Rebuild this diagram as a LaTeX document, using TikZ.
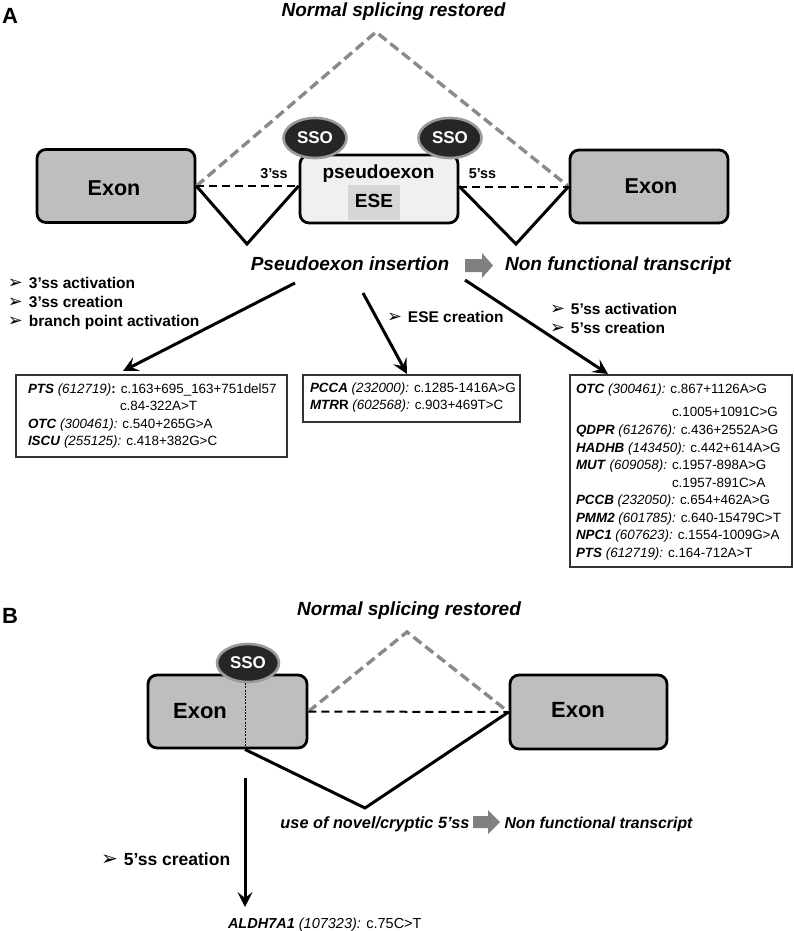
\documentclass[tikz,border=0pt]{standalone}
\usepackage{fontspec}
\setmainfont{Liberation Sans}
\newfontfamily\dejavu{DejaVu Sans}
\usetikzlibrary{shapes.geometric,arrows.meta}
\newcommand\fsz[1]{\fontsize{#1}{#1}\selectfont}
\newcommand\bi[1]{\textbf{\textit{#1}}}
\newcommand\blt{{\dejavu\mdseries\upshape\scalebox{1.15}{➢}}}
\definecolor{exgray}{HTML}{BEBEBE}
\definecolor{pexfill}{HTML}{F0F0F0}
\definecolor{esefill}{HTML}{D6D6D6}
\definecolor{ssofill}{HTML}{262626}
\definecolor{ssoedge}{HTML}{9A9A9A}
\definecolor{gline}{HTML}{8A8A8A}
\definecolor{garrow}{HTML}{808080}
\begin{document}
\begin{tikzpicture}[x=1pt,y=-1pt,
  exon/.style={draw, line width=2.8pt, fill=exgray, rounded corners=9pt, minimum width=158pt, minimum height=73pt, inner sep=0pt},
  pex/.style={draw, line width=2.8pt, fill=pexfill, rounded corners=9pt, minimum width=158pt, minimum height=68pt, inner sep=0pt},
  esebox/.style={fill=esefill, minimum width=52pt, minimum height=35pt, inner sep=0pt},
  sso/.style={ellipse, draw=ssoedge, line width=2.6pt, fill=ssofill, text=white, font=\fsz{17}\bfseries, minimum width=63pt, minimum height=40pt, inner sep=0pt},
  txt/.style={inner sep=0pt, outer sep=0pt},
  gdash/.style={draw=gline, line width=3.4pt, dash pattern=on 10pt off 5pt},
  bdash/.style={draw=black, line width=2pt, dash pattern=on 8pt off 5pt},
  vln/.style={draw=black, line width=3pt, line join=miter},
  listbox/.style={draw=black!80, line width=1.2pt, inner sep=0pt},
  bigarr/.style={line width=3pt, -{Stealth[length=15pt,width=15pt,inset=6pt]}},
  gbig/.style={txt, font=\fsz{19}\bfseries\itshape},
  bul/.style={txt, font=\fsz{15.5}\bfseries},
  lst/.style={txt, font=\fsz{13.4}},
  ]
\useasboundingbox (0,0) rectangle (794,931);

% ---------------- Panel A ----------------
\node[txt, anchor=base west, font=\fsz{22}\bfseries] (labA) at (2,24) {A};
\node[gbig, anchor=base] (nsrA) at (393.5,17) {Normal splicing restored};

\coordinate (apA) at (376,32);
\coordinate (vAL) at (247,244);
\coordinate (vAR) at (516,244);

\node[exon] (exL) at (116,186) {};
\node[exon] (exR) at (649,186.5) {};
\node[pex] (pe) at (379,189) {};
\node[esebox] (ese) at (374,202.5) {};

\node[txt, anchor=base, font=\fsz{21.5}\bfseries] (exLt) at (114,195) {Exon};
\node[txt, anchor=base, font=\fsz{21.5}\bfseries] (exRt) at (651,193) {Exon};
\node[txt, anchor=base, font=\fsz{19}\bfseries] (peT) at (378.5,178) {pseudoexon};
\node[txt, anchor=base, font=\fsz{19}\bfseries] (eseT) at (374,207) {ESE};

\draw[gdash] (exL.east) -- (apA) -- (exR.west);
\draw[bdash] (exL.east) -- (exL.east -| pe.west);
\draw[bdash] (exR.west -| pe.east) -- (exR.west);
\draw[vln] (exL.east) -- (vAL) -- (exL.east -| pe.west);
\draw[vln] (exR.west -| pe.east) -- (vAR) -- (exR.west);

\node[sso] (ssoL) at (315,138) {SSO};
\node[sso] (ssoR) at (450,138) {SSO};

\node[txt, anchor=base, font=\fsz{14.4}\bfseries] (ss3) at (274,178) {3’ss};
\node[txt, anchor=base, font=\fsz{14.4}\bfseries] (ss5) at (482.5,178) {5’ss};

\node[gbig, anchor=base] (pins) at (350,270) {Pseudoexon insertion};
\node[gbig, anchor=base] (nft) at (618,270) {Non functional transcript};
\fill[garrow] (465,259) -- (482,259) -- (482,253) -- (493,265.5) -- (482,278) -- (482,272) -- (465,272) -- cycle;

% bullets
\node[bul, anchor=base west] (b1) at (8,288) {\blt\hspace{6pt}3’ss activation};
\node[bul, anchor=base west] (b2) at (8,307) {\blt\hspace{6pt}3’ss creation};
\node[bul, anchor=base west] (b3) at (8,326) {\blt\hspace{6pt}branch point activation};
\node[bul, anchor=base west] (b4) at (387,322) {\blt\hspace{6pt}ESE creation};
\node[bul, anchor=base west] (b5) at (550,314) {\blt\hspace{6pt}5’ss activation};
\node[bul, anchor=base west] (b6) at (550,333) {\blt\hspace{6pt}5’ss creation};

% boxes
\node[listbox, minimum width=271pt, minimum height=82pt] (bxL) at (151.5,416) {};
\node[listbox, minimum width=217pt, minimum height=47pt] (bxM) at (411.5,398.5) {};
\node[listbox, minimum width=222pt, minimum height=192pt] (bxR) at (681,471) {};

\node[lst, anchor=base west] (l1) at (28,393) {\bi{PTS} \textit{(612719)}\textbf{:} c.163+695\_163+751del57};
\node[lst, anchor=base west] (l2) at (120,410.5) {c.84-322A>T};
\node[lst, anchor=base west] (l3) at (28,428) {\bi{OTC} \textit{(300461):} c.540+265G>A};
\node[lst, anchor=base west] (l4) at (28,445.5) {\bi{ISCU} \textit{(255125):} c.418+382G>C};

\node[lst, anchor=base west] (m1) at (310,392) {\bi{PCCA} \textit{(232000):} c.1285-1416A>G};
\node[lst, anchor=base west] (m2) at (310,409) {\textbf{\textit{MTR}R} \textit{(602568):} c.903+469T>C};

\node[lst, anchor=base west] (r1) at (576,393) {\bi{OTC} \textit{(300461):} c.867+1126A>G};
\node[lst, anchor=base west] (r2) at (672,416.5) {c.1005+1091C>G};
\node[lst, anchor=base west] (r3) at (576,434) {\bi{QDPR} \textit{(612676):} c.436+2552A>G};
\node[lst, anchor=base west] (r4) at (576,452) {\bi{HADHB} \textit{(143450):} c.442+614A>G};
\node[lst, anchor=base west] (r5) at (576,469.5) {\bi{MUT} \textit{(609058):} c.1957-898A>G};
\node[lst, anchor=base west] (r6) at (672,487) {c.1957-891C>A};
\node[lst, anchor=base west] (r7) at (576,504.5) {\bi{PCCB} \textit{(232050):} c.654+462A>G};
\node[lst, anchor=base west] (r8) at (576,522) {\bi{PMM2} \textit{(601785):} c.640-15479C>T};
\node[lst, anchor=base west] (r9) at (576,539.5) {\bi{NPC1} \textit{(607623):} c.1554-1009G>A};
\node[lst, anchor=base west] (r10) at (576,557) {\bi{PTS} \textit{(612719):} c.164-712A>T};

% arrows from "Pseudoexon insertion"
\coordinate (aL0) at (295,283);
\coordinate (aL1) at (123,371);
\coordinate (aM0) at (363,293);
\coordinate (aM1) at (407,374);
\coordinate (aR0) at (465,280);
\coordinate (aR1) at (608,374);
\draw[bigarr] (aL0) -- (aL1);
\draw[bigarr] (aM0) -- (aM1);
\draw[bigarr] (aR0) -- (aR1);

% ---------------- Panel B ----------------
\node[txt, anchor=base west, font=\fsz{22}\bfseries] (labB) at (2,623) {B};
\node[gbig, anchor=base] (nsrB) at (409,615) {Normal splicing restored};

\coordinate (apB) at (407,632);
\coordinate (vB) at (365,808);

\node[exon, minimum width=159pt] (bxl) at (227.5,711.5) {};
\node[exon, minimum width=157pt, minimum height=74pt] (bxr) at (588.5,712) {};
\node[txt, anchor=base, font=\fsz{22}\bfseries] (bxlt) at (200,718) {Exon};
\node[txt, anchor=base, font=\fsz{22}\bfseries] (bxrt) at (578,717) {Exon};

\coordinate (cut) at (245,0);
\draw[black, line width=0.8pt, dash pattern=on 2pt off 1.2pt] (bxl.north -| cut) -- (bxl.south -| cut);

\draw[gdash] (bxl.east) -- (apB) -- (bxr.west);
\draw[bdash] (bxl.east) -- (bxr.west);
\draw[vln] (bxl.south -| cut) -- (vB) -- (bxr.west);

\node[sso, minimum width=62pt, minimum height=38pt] (ssoB) at (248,663) {SSO};

\node[txt, anchor=base, font=\fsz{16.3}\bfseries\itshape] (novel) at (375,828) {use of novel/cryptic 5’ss};
\node[txt, anchor=base, font=\fsz{15.8}\bfseries\itshape] (nftB) at (598.5,828) {Non functional transcript};
\fill[garrow] (473,816) -- (488,816) -- (488,810) -- (500,822) -- (488,834) -- (488,828) -- (473,828) -- cycle;

\coordinate (aB0) at (245,778);
\coordinate (aB1) at (245,907);
\draw[bigarr] (aB0) -- (aB1);

\node[txt, anchor=base west, font=\fsz{17.5}\bfseries] (bB) at (101,865) {\blt\hspace{6pt}5’ss creation};
\node[txt, anchor=base west, font=\fsz{14.5}] (ald) at (228,928) {\bi{ALDH7A1} \textit{(107323):} c.75C>T};

\end{tikzpicture}
\end{document}
